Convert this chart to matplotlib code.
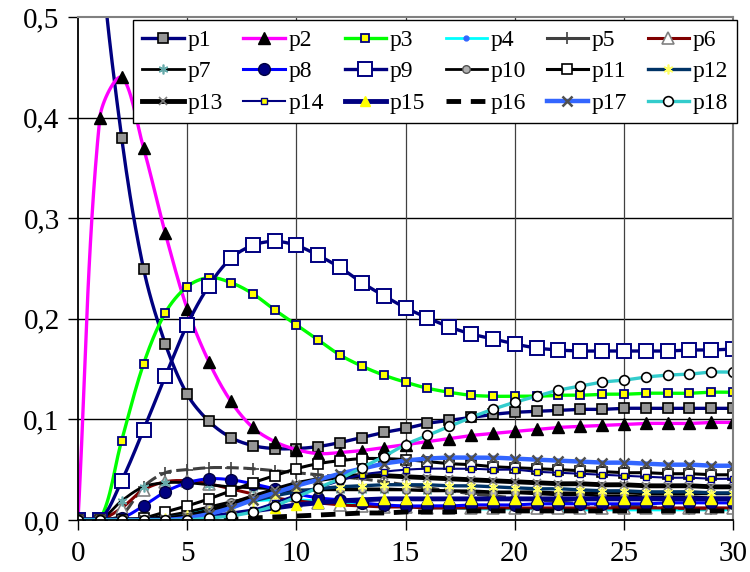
import numpy as np
import matplotlib
matplotlib.use("Agg")
import matplotlib.pyplot as plt
from matplotlib.lines import Line2D
from matplotlib.ticker import FuncFormatter, MultipleLocator

plt.rcParams['font.family'] = ['Liberation Serif', 'DejaVu Serif']

t = list(range(31))

p1 = [1.0, 0.58, 0.38, 0.25, 0.175, 0.125, 0.098, 0.082, 0.074, 0.071, 0.071, 0.073, 0.077, 0.082, 0.087, 0.091,
      0.096, 0.099, 0.102, 0.105, 0.107, 0.108, 0.109, 0.110, 0.110, 0.111, 0.111, 0.111, 0.111, 0.111, 0.111]
p2 = [0.0, 0.40, 0.44, 0.37, 0.285, 0.21, 0.157, 0.118, 0.092, 0.078, 0.070, 0.066, 0.067, 0.069, 0.072, 0.075,
      0.078, 0.081, 0.084, 0.086, 0.088, 0.090, 0.092, 0.093, 0.094, 0.095, 0.096, 0.096, 0.096, 0.097, 0.097]
p3 = [0.0, 0.0, 0.079, 0.155, 0.206, 0.232, 0.241, 0.236, 0.225, 0.209, 0.194, 0.179, 0.164, 0.153, 0.144, 0.137,
      0.131, 0.127, 0.124, 0.123, 0.123, 0.123, 0.124, 0.124, 0.125, 0.125, 0.126, 0.126, 0.126, 0.127, 0.127]
p4 = [0.0, 0.0, 0.0, 0.0, 0.003, 0.007, 0.012, 0.016, 0.019, 0.020, 0.020, 0.019, 0.017, 0.015, 0.014, 0.013,
      0.012, 0.012, 0.011, 0.011, 0.011, 0.011, 0.010, 0.010, 0.010, 0.010, 0.010, 0.010, 0.010, 0.010, 0.010]
p5 = [0.0, 0.0, 0.005, 0.033, 0.047, 0.050, 0.052, 0.052, 0.051, 0.049, 0.047, 0.045, 0.043, 0.041, 0.038, 0.035,
      0.032, 0.029, 0.026, 0.024, 0.022, 0.020, 0.018, 0.016, 0.015, 0.014, 0.013, 0.012, 0.011, 0.011, 0.010]
p6 = [0.0, 0.0, 0.012, 0.030, 0.038, 0.039, 0.036, 0.031, 0.026, 0.022, 0.019, 0.017, 0.015, 0.014, 0.013, 0.013,
      0.012, 0.012, 0.012, 0.012, 0.012, 0.012, 0.012, 0.012, 0.012, 0.012, 0.012, 0.012, 0.012, 0.012, 0.012]
p7 = [0.0, 0.0, 0.019, 0.033, 0.037, 0.037, 0.035, 0.033, 0.032, 0.031, 0.030, 0.030, 0.030, 0.030, 0.030, 0.030,
      0.029, 0.029, 0.029, 0.028, 0.028, 0.028, 0.027, 0.027, 0.027, 0.027, 0.026, 0.026, 0.026, 0.026, 0.026]
p8 = [0.0, 0.0, 0.002, 0.014, 0.028, 0.037, 0.041, 0.040, 0.036, 0.031, 0.026, 0.022, 0.020, 0.017, 0.015, 0.014,
      0.014, 0.014, 0.015, 0.015, 0.015, 0.016, 0.016, 0.016, 0.016, 0.016, 0.016, 0.017, 0.017, 0.017, 0.017]
p9 = [0.0, 0.0, 0.039, 0.0895, 0.143, 0.194, 0.233, 0.260, 0.273, 0.277, 0.273, 0.263, 0.251, 0.236, 0.223, 0.211,
      0.201, 0.192, 0.185, 0.180, 0.175, 0.171, 0.169, 0.168, 0.168, 0.168, 0.168, 0.168, 0.169, 0.169, 0.170]
p10 = [0.0, 0.0, 0.0, 0.001, 0.004, 0.008, 0.013, 0.018, 0.022, 0.026, 0.028, 0.030, 0.031, 0.031, 0.031, 0.030,
       0.030, 0.029, 0.028, 0.027, 0.027, 0.026, 0.025, 0.025, 0.024, 0.024, 0.023, 0.023, 0.023, 0.022, 0.022]
p11 = [0.0, 0.0, 0.0, 0.002, 0.008, 0.014, 0.021, 0.029, 0.037, 0.044, 0.051, 0.056, 0.059, 0.061, 0.061, 0.060,
       0.058, 0.056, 0.055, 0.053, 0.052, 0.051, 0.050, 0.049, 0.048, 0.047, 0.047, 0.046, 0.046, 0.045, 0.045]
p12 = [0.0, 0.0, 0.0, 0.0, 0.002, 0.005, 0.009, 0.014, 0.019, 0.024, 0.028, 0.031, 0.033, 0.034, 0.035, 0.035,
       0.035, 0.034, 0.034, 0.033, 0.032, 0.031, 0.031, 0.030, 0.029, 0.029, 0.028, 0.028, 0.028, 0.027, 0.027]
p13 = [0.0, 0.0, 0.0, 0.0, 0.001, 0.004, 0.009, 0.016, 0.023, 0.030, 0.036, 0.040, 0.043, 0.044, 0.044, 0.043,
       0.042, 0.041, 0.040, 0.039, 0.038, 0.037, 0.036, 0.036, 0.035, 0.035, 0.034, 0.034, 0.034, 0.033, 0.033]
p14 = [0.0, 0.0, 0.0, 0.0, 0.0, 0.001, 0.002, 0.005, 0.010, 0.017, 0.025, 0.032, 0.039, 0.045, 0.048, 0.050,
       0.051, 0.051, 0.051, 0.050, 0.050, 0.048, 0.047, 0.046, 0.045, 0.044, 0.043, 0.042, 0.042, 0.041, 0.041]
p15 = [0.0, 0.0, 0.0, 0.0, 0.0, 0.001, 0.003, 0.006, 0.009, 0.012, 0.015, 0.017, 0.019, 0.020, 0.021, 0.021,
       0.021, 0.021, 0.021, 0.021, 0.021, 0.021, 0.021, 0.021, 0.021, 0.021, 0.021, 0.021, 0.021, 0.021, 0.021]
p16 = [0.0, 0.0, 0.0, 0.0, 0.0, 0.0, 0.0, 0.001, 0.002, 0.003, 0.004, 0.005, 0.006, 0.007, 0.007, 0.008,
       0.008, 0.008, 0.009, 0.009, 0.009, 0.009, 0.009, 0.009, 0.009, 0.009, 0.009, 0.009, 0.009, 0.009, 0.009]
p17 = [0.0, 0.0, 0.0, 0.0, 0.0, 0.002, 0.006, 0.012, 0.020, 0.027, 0.034, 0.040, 0.046, 0.051, 0.056, 0.059,
       0.061, 0.062, 0.062, 0.062, 0.061, 0.060, 0.059, 0.058, 0.057, 0.057, 0.056, 0.055, 0.055, 0.054, 0.054]
p18 = [0.0, 0.0, 0.0, 0.0, 0.0, 0.0, 0.002, 0.004, 0.008, 0.014, 0.023, 0.032, 0.041, 0.052, 0.063, 0.075,
       0.084, 0.093, 0.102, 0.110, 0.117, 0.123, 0.129, 0.133, 0.137, 0.139, 0.142, 0.144, 0.145, 0.147, 0.147]

names = ['p1', 'p2', 'p3', 'p4', 'p5', 'p6', 'p7', 'p8', 'p9', 'p10', 'p11', 'p12', 'p13', 'p14', 'p15',
         'p16', 'p17', 'p18']
series = [p1, p2, p3, p4, p5, p6, p7, p8, p9, p10, p11, p12, p13, p14, p15, p16, p17, p18]

AST = (6, 2, 0)
styles = {
    'p1': dict(color='#000080', lw=2.4, marker='s', ms=6.5, mfc='#969696', mec='black', mew=1.2),
    'p2': dict(color='#FF00FF', lw=2.4, marker='^', ms=8, mfc='black', mec='black', mew=1),
    'p3': dict(color='#00FF00', lw=2.4, marker='s', ms=5.5, mfc='#FFFF00', mec='#000080', mew=1.3),
    'p4': dict(color='#00FFFF', lw=2.0, marker='o', ms=3.5, mfc='#3366FF', mec='#3366FF', mew=1),
    'p5': dict(color='#404040', lw=2.2, ls=(0, (4, 1.5)), marker='+', ms=9, mfc='#404040', mec='#404040', mew=1.2),
    'p6': dict(color='#800000', lw=2.2, marker='^', ms=8, mfc='white', mec='#808080', mew=1.2),
    'p7': dict(color='black', lw=2.0, marker=AST, ms=7, mfc='#99CCCC', mec='#66AAAA', mew=1.2),
    'p8': dict(color='#0000FF', lw=2.2, marker='o', ms=8.5, mfc='#000080', mec='#000040', mew=1),
    'p9': dict(color='#000080', lw=2.4, marker='s', ms=10, mfc='white', mec='#000080', mew=1.4),
    'p10': dict(color='black', lw=2.0, marker='o', ms=5.5, mfc='#B0B0B0', mec='#505050', mew=1),
    'p11': dict(color='black', lw=2.2, marker='s', ms=7.5, mfc='white', mec='black', mew=1.2),
    'p12': dict(color='#003366', lw=2.4, marker=AST, ms=7, mfc='#FFFF99', mec='#FFFF66', mew=1.2),
    'p13': dict(color='black', lw=3.5, marker='x', ms=6, mfc='#808080', mec='#808080', mew=1.2),
    'p14': dict(color='#000080', lw=1.5, marker='s', ms=5, mfc='#FFFF00', mec='#000080', mew=1),
    'p15': dict(color='#000080', lw=3.5, marker='^', ms=6.5, mfc='#FFFF00', mec='#FFFF00', mew=1),
    'p16': dict(color='black', lw=3.5, ls=(0, (3, 2)), marker='None'),
    'p17': dict(color='#3366FF', lw=3.2, marker='x', ms=7, mfc='#808080', mec='#505050', mew=1.8),
    'p18': dict(color='#33CCCC', lw=2.4, marker='o', ms=7, mfc='white', mec='black', mew=1.2),
}

SX = 655 / 30.0
SY = 503 / 0.5


def smooth(x, y, n=16):
    P = np.column_stack([np.asarray(x, float) * SX, np.asarray(y, float) * SY])
    m = len(P)
    out = [P[0]]
    s = np.linspace(0, 1, n + 1)[1:]
    for i in range(m - 1):
        a = P[i - 1] if i > 0 else P[i]
        b = P[i]
        c = P[i + 1]
        d = P[i + 2] if i + 2 < m else P[i + 1]
        dab = np.hypot(*(b - a))
        dbc = np.hypot(*(c - b))
        dcd = np.hypot(*(d - c))
        c1 = b + (c - a) * (dbc / (3 * (dab + dbc)) if dab + dbc > 0 else 0)
        c2 = c - (d - b) * (dbc / (3 * (dbc + dcd)) if dbc + dcd > 0 else 0)
        for u in s:
            out.append(((1 - u) ** 3) * b + 3 * ((1 - u) ** 2) * u * c1 + 3 * (1 - u) * u * u * c2 + u ** 3 * c)
    out = np.array(out)
    return out[:, 0] / SX, out[:, 1] / SY


fig = plt.figure(figsize=(7.5, 5.72), dpi=100)
ax = fig.add_axes([78 / 750, 1 - 520 / 572, (733 - 78) / 750, (520 - 17) / 572])

handles = {}
for k, (nm, ys) in enumerate(zip(names, series)):
    st = dict(styles[nm])
    ls = st.pop('ls', '-')
    color = st.pop('color')
    lw = st.pop('lw')
    xs, yy = smooth(t, ys)
    ax.plot(xs, yy, color=color, lw=lw, ls=ls, zorder=3 + k * 0.1, solid_capstyle='butt')
    if st.get('marker', 'None') != 'None':
        ax.plot(t, ys, ls='none', zorder=3 + k * 0.1 + 0.05, **st)
    hls = ls if nm == 'p16' else '-'
    handles[nm] = Line2D([], [], color=color, lw=lw, ls=hls, **st)

ax.set_xlim(0, 30)
ax.set_ylim(0, 0.5)
ax.xaxis.set_major_locator(MultipleLocator(5))
ax.yaxis.set_major_locator(MultipleLocator(0.1))
ax.yaxis.set_major_formatter(FuncFormatter(lambda v, p: ('%.1f' % v).replace('.', ',')))
ax.xaxis.set_major_formatter(FuncFormatter(lambda v, p: '%d' % round(v)))
ax.tick_params(axis='both', direction='out', length=7.2, width=1, labelsize=21, colors='black')
ax.tick_params(axis='y', pad=6)
ax.tick_params(axis='x', pad=8)

for v in [0.1, 0.2, 0.3, 0.4]:
    ax.axhline(v, color='black', lw=1.0, zorder=1)
for v in [5, 10, 15, 20, 25]:
    ax.axvline(v, color='#404040', lw=0.9, zorder=1)

ax.spines['left'].set_color('black')
ax.spines['bottom'].set_color('black')
ax.spines['left'].set_linewidth(1.3)
ax.spines['bottom'].set_linewidth(1.3)
ax.spines['top'].set_color('#808080')
ax.spines['right'].set_color('#808080')
ax.spines['top'].set_linewidth(1.5)
ax.spines['right'].set_linewidth(1.5)
for s in ax.spines.values():
    s.set_zorder(10)

# matplotlib fills legend column by column; reorder so rows read p1..p6, p7..p12, p13..p18
order = [names[r * 6 + c] for c in range(6) for r in range(3)]
leg = ax.legend([handles[n] for n in order], order, ncol=6, loc='upper left',
                bbox_to_anchor=(133 / 750, 1 - 20 / 572), bbox_transform=fig.transFigure,
                fontsize=17, frameon=True, fancybox=False, framealpha=1, edgecolor='black',
                handlelength=1.75, handletextpad=0.15, columnspacing=0.88, borderpad=0.4,
                labelspacing=0.42, borderaxespad=0)
leg.get_frame().set_linewidth(1.0)
leg.set_zorder(20)

fig.savefig('out.png', dpi=100)
